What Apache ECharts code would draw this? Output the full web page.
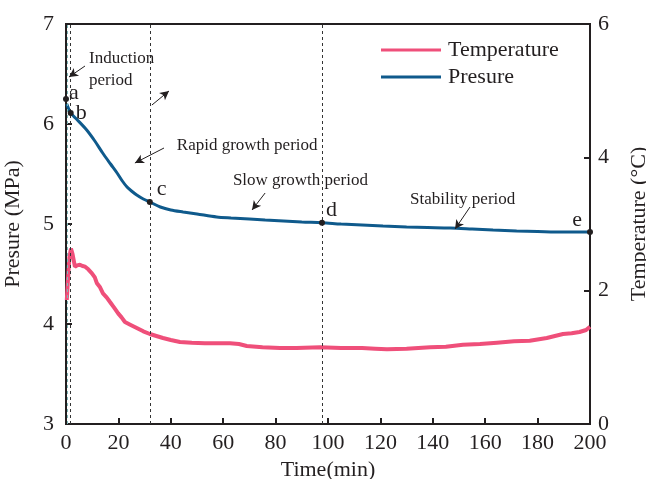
<!DOCTYPE html>
<html><head><meta charset="utf-8">
<script src="https://cdn.jsdelivr.net/npm/echarts@6/dist/echarts.min.js"></script>
<style>html,body{margin:0;padding:0;background:#fff}#c{width:646px;height:479px}</style>
</head><body><div id="c"></div>
<script>
// ---- data ----
var xTicks = [0,20,40,60,80,100,120,140,160,180,200];
var presT = [0.3, 1.8, 4, 7.9, 11, 14, 17, 19.5, 21.5, 23.3, 25, 27, 29.5, 32, 36, 40, 44.7, 50, 57.5, 63, 70, 76, 83, 90, 97.7, 105, 113, 121, 130, 138, 146.6, 155, 163, 172, 180, 190, 200];
var presV = [6.2, 6.11, 6.05, 5.94, 5.83, 5.71, 5.6, 5.51, 5.43, 5.37, 5.33, 5.29, 5.25, 5.22, 5.17, 5.14, 5.12, 5.10, 5.07, 5.06, 5.05, 5.04, 5.03, 5.02, 5.013, 5.0, 4.99, 4.98, 4.97, 4.965, 4.96, 4.95, 4.94, 4.93, 4.925, 4.92, 4.92];
var tempT = [0.3, 0.8, 1.3, 1.9, 2.5, 3.4, 4.3, 5.3, 6.3, 7.3, 8.5, 9.9, 11.0, 11.8, 13.0, 14.1, 15.5, 16.8, 18.3, 19.9, 21.2, 22.5, 24.5, 27, 29.5, 32, 34.5, 37, 40, 43.5, 48, 53, 58, 62.6, 66, 69, 75, 81.7, 88, 97, 105, 113, 118, 122.5, 130, 139, 145, 151.5, 158, 164.5, 171, 177, 183.5, 189.7, 193, 196, 198.5, 200];
var tempV = [1.86, 2.2, 2.5, 2.63, 2.55, 2.36, 2.38, 2.39, 2.37, 2.36, 2.32, 2.26, 2.2, 2.11, 2.05, 1.96, 1.9, 1.83, 1.75, 1.66, 1.6, 1.53, 1.49, 1.44, 1.39, 1.35, 1.32, 1.29, 1.26, 1.23, 1.22, 1.21, 1.21, 1.21, 1.2, 1.17, 1.15, 1.14, 1.14, 1.15, 1.14, 1.14, 1.13, 1.12, 1.13, 1.15, 1.16, 1.19, 1.2, 1.22, 1.24, 1.25, 1.29, 1.35, 1.36, 1.38, 1.41, 1.46];
var pointNames = ['a','b','c','d','e'];
var pointT = [0, 1.8, 32, 97.7, 200];
var pointP = [6.25, 6.11, 5.22, 5.013, 4.92];
var dashT = [0.6, 1.8, 32.3, 97.7];
var periodNames = ['Induction\nperiod', 'Rapid growth period', 'Slow growth period', 'Stability period'];
var periodTextT = [8.8, 42.3, 63.7, 131.3];
var periodTextP = [6.54, 5.78, 5.43, 5.24];
var arrowFromT = [7.25, 37.4, 32.8, 76.0, 154.2];
var arrowFromP = [6.58, 5.76, 6.19, 5.31, 5.17];
var arrowToT = [1.15, 26.3, 39.3, 71.0, 148.5];
var arrowToP = [6.47, 5.61, 6.33, 5.14, 4.95];

var FONT = 'Liberation Serif';
var TXT = '#231f20';
var chart = echarts.init(document.getElementById('c'));

function zip(a,b){return a.map(function(v,i){return [v,b[i]];});}

var pointLabelPos = [
  {position:'right', offset:[-5,-6]},
  {position:'right', offset:[-3,0]},
  {position:'right', offset:[-1,-13]},
  {position:'right', offset:[-4,-12]},
  {position:'left', offset:[0,-12]}
];

var arrows = arrowFromT.map(function(t,i){
  return [{coord:[t, arrowFromP[i]]},{coord:[arrowToT[i], arrowToP[i]]}];
});

var option = {
  animation:false,
  backgroundColor:'#fff',
  grid:{left:66, right:56, top:24, bottom:55, containLabel:false, outerBoundsMode:'none',
    show:true, borderColor:'#231f20', borderWidth:2, backgroundColor:'transparent'},
  legend:{
    data:['Temperature','Presure'],
    orient:'vertical', left:376, top:34, itemGap:5,
    icon:'rect', itemWidth:60, itemHeight:3,
    textStyle:{fontFamily:FONT, fontSize:22, color:TXT, padding:[0,0,0,2]}
  },
  xAxis:{
    type:'value', min:0, max:200, interval:20,
    name:'Time(min)', nameLocation:'middle', nameGap:33,
    nameTextStyle:{fontFamily:FONT, fontSize:22, color:TXT},
    axisLine:{lineStyle:{color:'#231f20', width:2}},
    axisTick:{inside:true, length:6, lineStyle:{color:'#231f20', width:2}},
    axisLabel:{fontFamily:FONT, fontSize:22, color:TXT, margin:8},
    splitLine:{show:false}
  },
  yAxis:[{
    type:'value', min:3, max:7, interval:1, position:'left',
    name:'Presure (MPa)', nameLocation:'middle', nameGap:42,
    nameTextStyle:{fontFamily:FONT, fontSize:22, color:TXT},
    axisLine:{show:true, lineStyle:{color:'#231f20', width:2}},
    axisTick:{show:true, inside:true, length:6, lineStyle:{color:'#231f20', width:2}},
    axisLabel:{fontFamily:FONT, fontSize:22, color:TXT, margin:12},
    splitLine:{show:false}
  },{
    type:'value', min:0, max:6, interval:2, position:'right',
    name:'Temperature (°C)', nameLocation:'middle', nameGap:38,
    nameTextStyle:{fontFamily:FONT, fontSize:22, color:TXT},
    axisLine:{show:true, lineStyle:{color:'#231f20', width:2}},
    axisTick:{show:true, inside:true, length:6, lineStyle:{color:'#231f20', width:2}},
    axisLabel:{fontFamily:FONT, fontSize:22, color:TXT, margin:8},
    splitLine:{show:false}
  }],
  series:[{
    name:'Temperature', type:'line', yAxisIndex:1,
    data:zip(tempT,tempV), showSymbol:false, symbol:'none',
    lineStyle:{color:'#ef4f7a', width:4}, itemStyle:{color:'#ef4f7a'},
    z:2
  },{
    name:'Presure', type:'line', yAxisIndex:0,
    data:zip(presT,presV), showSymbol:false, symbol:'none', smooth:0.3,
    lineStyle:{color:'#0f5a8c', width:3}, itemStyle:{color:'#0f5a8c'},
    z:3,
    markLine:{
      silent:true, symbol:['none','none'], label:{show:false},
      data: dashT.map(function(t,i){
        return {xAxis:t, lineStyle:{type:[3,3], width:1, color: i===0 ? '#7fb8b8' : '#333'}};
      })
    }
  },{
    name:'arrows', type:'line', yAxisIndex:0, data:[],
    markLine:{
      silent:true, symbol:['none','arrow'], symbolSize:[7,9], label:{show:false},
      lineStyle:{type:'solid', color:'#231f20', width:1},
      data: arrows
    }
  },{
    name:'points', type:'scatter', yAxisIndex:0, clip:false,
    data: pointT.map(function(t,i){
      return {value:[t, pointP[i]], name:pointNames[i],
        label:{show:true, formatter:pointNames[i], position:pointLabelPos[i].position, offset:pointLabelPos[i].offset,
          fontFamily:FONT, fontSize:22, color:TXT}};
    }),
    symbolSize:6, itemStyle:{color:'#231f20', opacity:1}, z:5
  }]
};
chart.setOption(option);

var texts = periodTextT.map(function(t,i){
  var p = chart.convertToPixel({xAxisIndex:0, yAxisIndex:0}, [t, periodTextP[i]]);
  return {type:'text', x:p[0], y:p[1], z:10, silent:true,
    style:{text:periodNames[i], fontFamily:FONT, fontSize:17, fill:TXT, lineHeight:22,
      align:'left', verticalAlign:'middle'}};
});
chart.setOption({graphic:{elements:texts}});
</script>
</body></html>
